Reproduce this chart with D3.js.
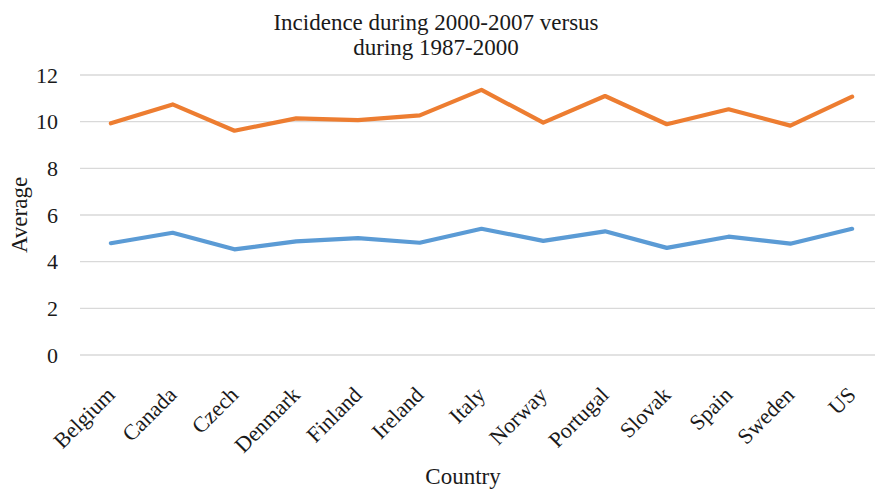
<!DOCTYPE html>
<html>
<head>
<meta charset="utf-8">
<script src="https://cdn.jsdelivr.net/npm/d3@7"></script>
<style>
  html, body { margin: 0; padding: 0; background: #fff; }
  svg { display: block; font-family: "Liberation Serif", "Times New Roman", serif; }
</style>
</head>
<body>
<svg id="chart" width="875" height="494"></svg>
<script>
// Countries on the x axis
const countries = ["Belgium", "Canada", "Czech", "Denmark", "Finland", "Ireland", "Italy",
                   "Norway", "Portugal", "Slovak", "Spain", "Sweden", "US"];
// Average incidence, 2000-2007 (orange) and 1987-2000 (blue)
const incidence2000_2007 = [9.93, 10.74, 9.61, 10.14, 10.07, 10.27, 11.36, 9.96, 11.10, 9.89, 10.53, 9.83, 11.07];
const incidence1987_2000 = [4.79, 5.24, 4.53, 4.87, 5.01, 4.81, 5.41, 4.89, 5.30, 4.59, 5.07, 4.77, 5.41];
const yTicks = [0, 2, 4, 6, 8, 10, 12];
const titleLines = ["Incidence during 2000-2007 versus", "during 1987-2000"];

const FONT = "Liberation Serif, Times New Roman, serif";
const svg = d3.select("#chart");
const plot = { left: 80, right: 883, top: 75, bottom: 355 };

const x = d3.scaleBand().domain(countries).range([plot.left, plot.right]);
const y = d3.scaleLinear().domain([0, 12]).range([plot.bottom, plot.top]);

// horizontal gridlines
svg.append("g")
  .selectAll("line")
  .data(yTicks)
  .join("line")
  .attr("x1", plot.left).attr("x2", plot.right)
  .attr("y1", d => y(d)).attr("y2", d => y(d))
  .attr("stroke", "#d9d9d9").attr("stroke-width", 1.3);

// y axis labels
const yAxis = d3.axisLeft(y).tickValues(yTicks).tickSize(0).tickPadding(0);
svg.append("g")
  .attr("transform", "translate(58,0)")
  .call(yAxis)
  .call(g => g.select(".domain").remove())
  .call(g => g.attr("font-family", FONT))
  .call(g => g.selectAll("text")
    .attr("font-size", 22).attr("fill", "#1a1a1a"));

// x axis labels, rotated 45 degrees
const xAxis = d3.axisBottom(x).tickSize(0).tickPadding(0);
svg.append("g")
  .attr("transform", "translate(0,391)")
  .call(xAxis)
  .call(g => g.select(".domain").remove())
  .call(g => g.attr("font-family", FONT))
  .call(g => g.selectAll("text")
    .attr("font-size", 22).attr("fill", "#1a1a1a")
    .attr("text-anchor", "end")
    .attr("y", 0).attr("dy", "0.33em")
    .attr("transform", "rotate(-45)"));

// series lines
const line = d3.line()
  .x((d, i) => x(countries[i]) + x.bandwidth() / 2)
  .y(d => y(d));

[[incidence1987_2000, "#5b9bd5"], [incidence2000_2007, "#ed7d31"]].forEach(([vals, color]) => {
  svg.append("path")
    .datum(vals)
    .attr("d", line)
    .attr("fill", "none")
    .attr("stroke", color)
    .attr("stroke-width", 4.2)
    .attr("stroke-linejoin", "round")
    .attr("stroke-linecap", "round");
});

// chart title
svg.append("text")
  .attr("x", 436).attr("y", 30)
  .attr("text-anchor", "middle")
  .attr("font-family", FONT)
  .attr("font-size", 23).attr("fill", "#1a1a1a")
  .selectAll("tspan")
  .data(titleLines)
  .join("tspan")
  .attr("x", 436)
  .attr("dy", (d, i) => i === 0 ? 0 : 25)
  .text(d => d);

// axis titles
svg.append("text")
  .attr("x", 463).attr("y", 484)
  .attr("text-anchor", "middle")
  .attr("font-family", FONT)
  .attr("font-size", 23).attr("fill", "#1a1a1a")
  .text("Country");

svg.append("text")
  .attr("transform", "translate(27,215) rotate(-90)")
  .attr("text-anchor", "middle")
  .attr("font-family", FONT)
  .attr("font-size", 23).attr("fill", "#1a1a1a")
  .text("Average");
</script>
</body>
</html>
